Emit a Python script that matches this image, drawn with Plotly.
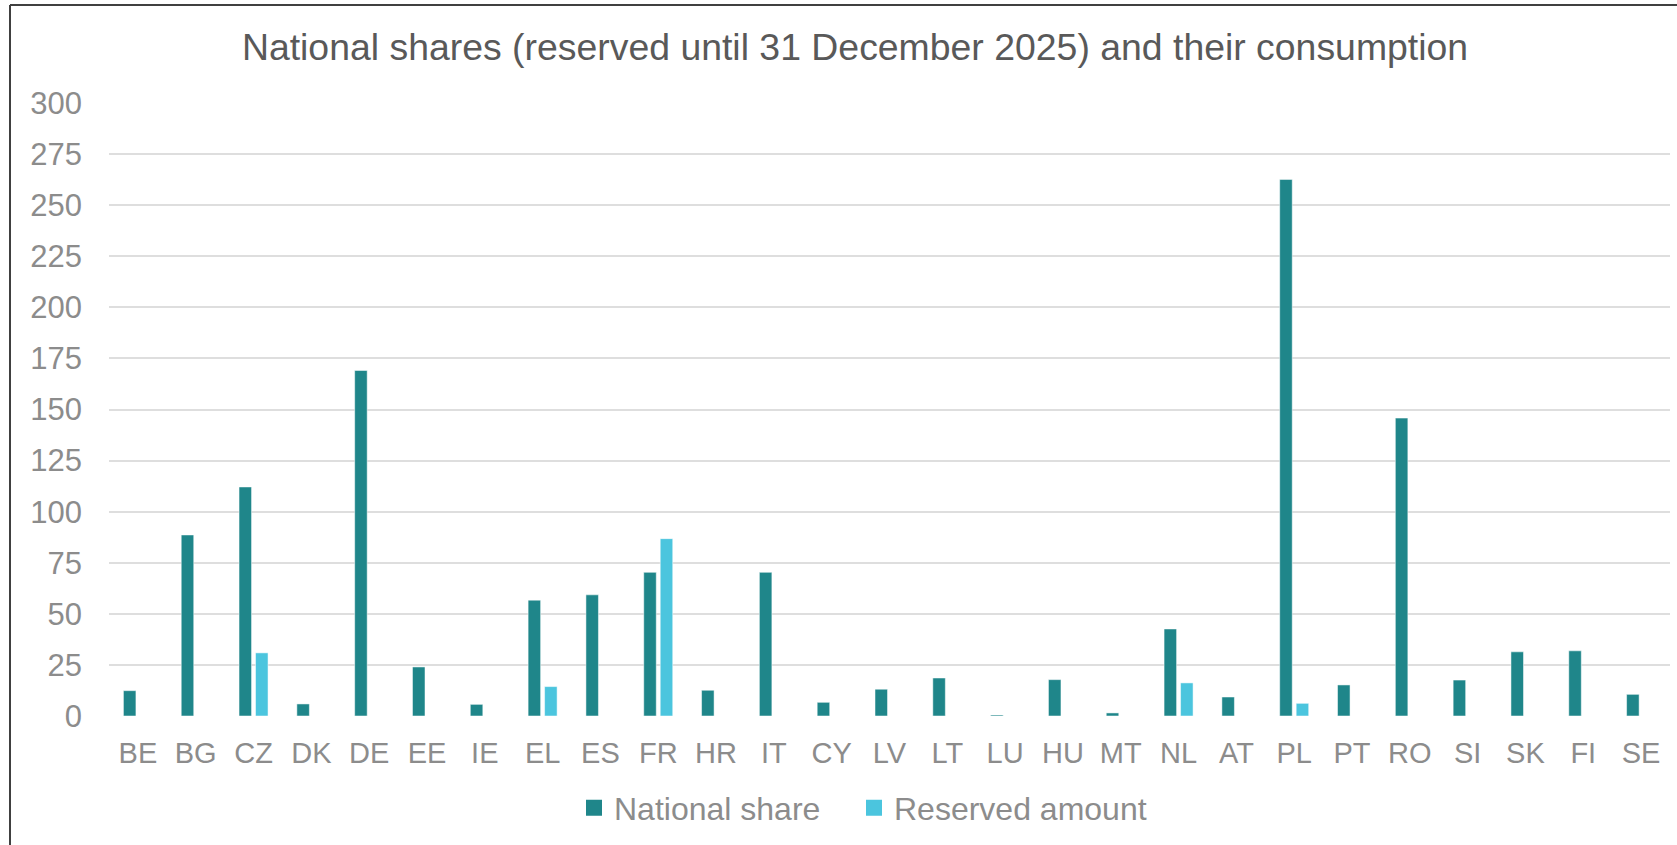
import plotly.graph_objects as go

countries = ["BE", "BG", "CZ", "DK", "DE", "EE", "IE", "EL", "ES", "FR", "HR", "IT", "CY", "LV",
             "LT", "LU", "HU", "MT", "NL", "AT", "PL", "PT", "RO", "SI", "SK", "FI", "SE"]
national_share = [12.4, 88.6, 112.1, 5.9, 169.1, 24.0, 5.7, 56.7, 59.3, 70.3, 12.6, 70.3, 6.7, 13.1,
                  18.6, 0.5, 17.8, 1.5, 42.6, 9.3, 262.6, 15.2, 145.8, 17.6, 31.4, 31.9, 10.6]
reserved_amount = [0, 0, 30.9, 0, 0, 0, 0, 14.4, 0, 86.8, 0, 0, 0, 0,
                   0, 0, 0, 0, 16.2, 0, 6.2, 0, 0, 0, 0, 0, 0]
y_ticks = [0, 25, 50, 75, 100, 125, 150, 175, 200, 225, 250, 275, 300]

W, H = 1677, 845
ML, MR, MT, MB = 109, 7, 103, 129
PW, PH = W - ML - MR, H - MT - MB

def px_x(p):
    return (p - ML) / PW

def px_y(p):
    return (H - MB - p) / PH

FONT = "Liberation Sans, Arial, sans-serif"
TEAL = "#1F868A"
CYAN = "#4BC5DE"
GRAY = "#8C8C8C"

fig = go.Figure()
fig.add_trace(go.Bar(x=countries, y=national_share, name="National share", showlegend=False,
                     marker=dict(color=TEAL, line=dict(color="white", width=0.5))))
fig.add_trace(go.Bar(x=countries, y=reserved_amount, name="Reserved amount", showlegend=False,
                     marker=dict(color=CYAN, line=dict(color="white", width=0.5))))
# legend entries with larger square swatches
for nm, col, lg in [("National share", TEAL, "legend"), ("Reserved amount", CYAN, "legend2")]:
    fig.add_trace(go.Scatter(x=[None], y=[None], mode="markers", name=nm, showlegend=True,
                             legend=lg, marker=dict(symbol="square", size=17, color=col)))

legend_style = dict(orientation="h", xanchor="left", y=px_y(808), yanchor="middle",
                    itemwidth=30, bgcolor="rgba(0,0,0,0)",
                    font=dict(size=32, color=GRAY, family=FONT))

fig.update_layout(
    width=W, height=H,
    margin=dict(l=ML, r=MR, t=MT, b=MB, pad=0),
    paper_bgcolor="white", plot_bgcolor="white",
    barmode="group", bargap=0.43, bargroupgap=0.24,
    font=dict(family=FONT, color=GRAY),
    title=dict(text="National shares (reserved until 31 December 2025) and their consumption",
               font=dict(size=37.4, color="#595959", family=FONT),
               x=px_x(855), xref="paper", xanchor="center",
               y=1 - 47 / H, yref="container", yanchor="middle"),
    legend=dict(x=px_x(574), **legend_style),
    legend2=dict(x=px_x(854), **legend_style),
    showlegend=True,
)
fig.update_xaxes(showgrid=False, showline=False, zeroline=False, ticks="",
                 tickfont=dict(size=29, color=GRAY), ticklabelstandoff=17)
fig.update_yaxes(range=[0, 300], tickvals=y_ticks, showgrid=True, gridcolor="#DEDEDE",
                 gridwidth=1.5, zeroline=False, showline=False, ticks="",
                 tickfont=dict(size=31, color=GRAY), ticklabelstandoff=26)

# outer chart border (left and top edges visible)
fig.add_shape(type="line", xref="paper", yref="paper",
              x0=px_x(10), x1=px_x(10), y0=px_y(5), y1=px_y(H + 10),
              line=dict(color="#404040", width=2))
fig.add_shape(type="line", xref="paper", yref="paper",
              x0=px_x(10), x1=px_x(W + 10), y0=px_y(5), y1=px_y(5),
              line=dict(color="#404040", width=2))

fig.write_html("out.html", config={"displayModeBar": False},
               post_script="document.body.style.margin='0';document.body.style.overflow='hidden';")
